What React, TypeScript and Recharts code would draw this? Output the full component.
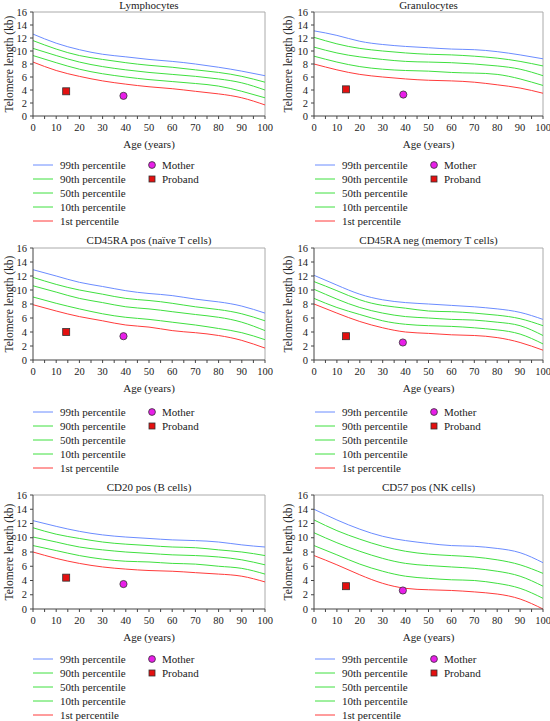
import React from "react";
import { ComposedChart, Line, Scatter, XAxis, YAxis, ReferenceLine } from "recharts";

const AGES = [0, 10, 20, 30, 40, 50, 60, 70, 80, 90, 100];
const AGE_TICKS = [0, 5, 10, 15, 20, 25, 30, 35, 40, 45, 50, 55, 60, 65, 70, 75, 80, 85, 90, 95, 100];
const TL_TICKS = [0, 2, 4, 6, 8, 10, 12, 14, 16];

// Lymphocytes
const lymP99 = [12.6, 11.2, 10.2, 9.5, 9.1, 8.7, 8.4, 8.0, 7.5, 6.9, 6.2];
const lymP90 = [11.6, 10.3, 9.3, 8.7, 8.2, 7.8, 7.5, 7.1, 6.7, 6.1, 5.2];
const lymP50 = [10.4, 9.3, 8.3, 7.6, 7.1, 6.7, 6.4, 6.1, 5.7, 5.1, 4.0];
const lymP10 = [9.3, 8.2, 7.2, 6.5, 6.0, 5.6, 5.3, 5.0, 4.6, 3.8, 2.8];
const lymP1 = [8.3, 7.0, 6.1, 5.4, 4.9, 4.5, 4.2, 3.8, 3.4, 2.8, 1.7];

// Granulocytes
const graP99 = [13.1, 12.4, 11.5, 11.0, 10.7, 10.5, 10.3, 10.2, 9.9, 9.4, 8.8];
const graP90 = [12.1, 11.1, 10.4, 10.0, 9.7, 9.5, 9.4, 9.2, 8.9, 8.4, 7.7];
const graP50 = [10.6, 9.7, 9.1, 8.7, 8.4, 8.3, 8.2, 8.0, 7.7, 7.2, 6.2];
const graP10 = [9.2, 8.3, 7.6, 7.2, 7.0, 6.9, 6.7, 6.6, 6.4, 5.7, 4.7];
const graP1 = [8.0, 7.1, 6.4, 6.0, 5.7, 5.5, 5.4, 5.2, 4.8, 4.3, 3.5];

// CD45RA pos
const naiP99 = [12.9, 12.0, 11.1, 10.5, 9.9, 9.5, 9.2, 8.7, 8.3, 7.7, 6.7];
const naiP90 = [11.8, 10.8, 10.0, 9.4, 8.8, 8.5, 8.1, 7.6, 7.2, 6.6, 5.6];
const naiP50 = [10.6, 9.7, 8.8, 8.2, 7.6, 7.3, 6.9, 6.5, 6.1, 5.4, 4.2];
const naiP10 = [9.0, 8.1, 7.3, 6.6, 6.1, 5.8, 5.4, 5.0, 4.5, 3.9, 2.9];
const naiP1 = [7.9, 7.0, 6.2, 5.6, 5.0, 4.7, 4.2, 3.9, 3.5, 2.8, 1.7];

// CD45RA neg
const memP99 = [12.1, 10.7, 9.4, 8.6, 8.2, 8.0, 7.8, 7.6, 7.3, 6.8, 5.8];
const memP90 = [11.2, 9.9, 8.6, 7.8, 7.4, 7.0, 6.9, 6.7, 6.4, 5.9, 4.9];
const memP50 = [10.1, 8.7, 7.5, 6.7, 6.2, 6.0, 5.8, 5.7, 5.4, 4.9, 3.5];
const memP10 = [8.8, 7.5, 6.5, 5.6, 5.1, 4.9, 4.8, 4.6, 4.3, 3.7, 2.3];
const memP1 = [8.0, 6.7, 5.5, 4.6, 4.0, 3.8, 3.6, 3.5, 3.2, 2.5, 1.4];

// CD20 pos
const bP99 = [12.4, 11.6, 10.9, 10.4, 10.1, 9.9, 9.7, 9.6, 9.4, 9.0, 8.7];
const bP90 = [11.4, 10.5, 9.9, 9.4, 9.1, 8.9, 8.7, 8.6, 8.3, 8.0, 7.5];
const bP50 = [10.1, 9.4, 8.7, 8.3, 8.0, 7.8, 7.6, 7.5, 7.3, 6.9, 6.2];
const bP10 = [8.9, 8.2, 7.5, 7.0, 6.7, 6.6, 6.4, 6.3, 6.0, 5.7, 4.9];
const bP1 = [8.0, 7.1, 6.4, 5.9, 5.6, 5.4, 5.3, 5.1, 4.9, 4.6, 3.8];

// CD57 pos
const nkP99 = [14.0, 12.5, 11.2, 10.2, 9.6, 9.2, 8.9, 8.8, 8.5, 7.9, 6.5];
const nkP90 = [12.5, 11.0, 9.8, 8.8, 8.1, 7.7, 7.5, 7.3, 6.9, 6.2, 5.0];
const nkP50 = [10.7, 9.3, 8.1, 7.1, 6.4, 6.1, 5.9, 5.7, 5.3, 4.6, 3.2];
const nkP10 = [8.9, 7.6, 6.3, 5.3, 4.6, 4.3, 4.1, 4.0, 3.6, 2.9, 1.5];
const nkP1 = [7.5, 6.2, 4.8, 3.6, 2.9, 2.7, 2.6, 2.4, 2.1, 1.4, 0.0];

// [age, kb]
const mothers = [[39, 3.1], [39, 3.3], [39, 3.4], [38.8, 2.5], [39, 3.5], [38.8, 2.6]];
const probands = [[14.3, 3.8], [14, 4.1], [14.3, 4.0], [14, 3.4], [14.3, 4.4], [14, 3.2]];

const SERIF = '"Liberation Serif", "Times New Roman", Times, serif';
const BLUE = "#6b8cff";
const GREEN = "#3fe03f";
const RED = "#ff3b3b";
const AXIS = "#444";

const legendRows = [
  { name: "99th percentile", color: BLUE },
  { name: "90th percentile", color: GREEN },
  { name: "50th percentile", color: GREEN },
  { name: "10th percentile", color: GREEN },
  { name: "1st percentile", color: RED },
];

const XTick = (props: any) => {
  const { x, y, payload } = props;
  if (payload.value % 10 !== 0) return <g />;
  return (
    <text x={x} y={y} dy="0.71em" textAnchor="middle" fontSize={10.5} style={{ fontFamily: SERIF }} fill="#222">
      {payload.value}
    </text>
  );
};

const YTick = (props: any) => {
  const { x, y, payload } = props;
  return (
    <text x={x} y={y} dy="0.35em" textAnchor="end" fontSize={10.5} style={{ fontFamily: SERIF }} fill="#222">
      {payload.value}
    </text>
  );
};

const MotherDot = (props: any) => (
  <circle cx={props.cx} cy={props.cy} r={3.6} fill="#e81ee8" stroke="#333" strokeWidth={0.8} />
);
const ProbandBox = (props: any) => (
  <rect x={props.cx - 3.5} y={props.cy - 3.5} width={7} height={7} fill="#e41010" stroke="#333" strokeWidth={0.8} />
);

function Panel({ title, curves, idx, col, top, plotTop, plotH, titleY, legendY }: any) {
  const plotLeft = col ? 39 : 33;
  const rightM = col ? 7 : 10;
  const plotW = 275 - plotLeft - rightM;
  const height = plotTop + plotH + 34;
  const rows = AGES.map((age, i) => ({
    age,
    p99: curves[0][i],
    p90: curves[1][i],
    p50: curves[2][i],
    p10: curves[3][i],
    p1: curves[4][i],
  }));
  const left = col * 275;
  const yLabelX = col ? 13 : 9;
  const plotBottom = plotTop + plotH;
  return (
    <>
      <div
        style={{
          position: "absolute", left: left + plotLeft, top: titleY - 7, width: plotW,
          textAlign: "center", fontSize: 11, lineHeight: "14px", fontFamily: SERIF, color: "#222",
        }}
      >
        {title}
      </div>
      <div style={{ position: "absolute", left, top }}>
        <ComposedChart width={275} height={height} data={rows} margin={{ top: plotTop, right: rightM, left: 0, bottom: 0 }}>
          <XAxis
            dataKey="age" type="number" domain={[0, 100]} ticks={AGE_TICKS} interval={0}
            tick={<XTick />} tickSize={3} tickMargin={5} height={34}
            axisLine={{ stroke: AXIS }} tickLine={{ stroke: AXIS }}
            label={() => (
              <text x={plotLeft + plotW / 2} y={plotBottom + 28} dy="0.35em" textAnchor="middle" fontSize={11} style={{ fontFamily: SERIF }} fill="#222">
                Age (years)
              </text>
            )}
          />
          <YAxis
            type="number" domain={[0, 16]} ticks={TL_TICKS} interval={0} width={plotLeft}
            tickSize={3} tickMargin={3} tick={<YTick />}
            axisLine={{ stroke: AXIS }} tickLine={{ stroke: AXIS }}
            label={() => (
              <text
                x={yLabelX} y={plotTop + plotH / 2} textAnchor="middle" dominantBaseline="central"
                transform={`rotate(-90 ${yLabelX} ${plotTop + plotH / 2})`}
                fontSize={11.5} style={{ fontFamily: SERIF }} fill="#222"
              >
                Telomere length (kb)
              </text>
            )}
          />
          <ReferenceLine y={16} stroke="#aaa" />
          <ReferenceLine x={100} stroke="#aaa" />
          <Line type="natural" dataKey="p99" stroke={BLUE} strokeWidth={1} dot={false} isAnimationActive={false} />
          <Line type="natural" dataKey="p90" stroke={GREEN} strokeWidth={1} dot={false} isAnimationActive={false} />
          <Line type="natural" dataKey="p50" stroke={GREEN} strokeWidth={1} dot={false} isAnimationActive={false} />
          <Line type="natural" dataKey="p10" stroke={GREEN} strokeWidth={1} dot={false} isAnimationActive={false} />
          <Line type="natural" dataKey="p1" stroke={RED} strokeWidth={1} dot={false} isAnimationActive={false} />
          <Scatter data={[{ age: probands[idx][0], tl: probands[idx][1] }]} dataKey="tl" shape={<ProbandBox />} isAnimationActive={false} />
          <Scatter data={[{ age: mothers[idx][0], tl: mothers[idx][1] }]} dataKey="tl" shape={<MotherDot />} isAnimationActive={false} />
        </ComposedChart>
      </div>
      <div style={{ position: "absolute", left: left + (col ? 40 : 33), top: legendY - 7, fontFamily: SERIF, fontSize: 11, color: "#222" }}>
        {legendRows.map((r, i) => (
          <div key={r.name} style={{ position: "absolute", top: i * 14, left: 0, height: 14, width: 110, display: "flex", alignItems: "center" }}>
            <svg width={20} height={14}><line x1={0} x2={20} y1={7} y2={7} stroke={r.color} strokeWidth={1} /></svg>
            <span style={{ marginLeft: 7, whiteSpace: "nowrap", lineHeight: "14px" }}>{r.name}</span>
          </div>
        ))}
        <div style={{ position: "absolute", top: 0, left: 114, height: 14, display: "flex", alignItems: "center" }}>
          <svg width={10} height={14}><circle cx={5} cy={7} r={3.4} fill="#e81ee8" stroke="#333" strokeWidth={0.8} /></svg>
          <span style={{ marginLeft: 5, whiteSpace: "nowrap", lineHeight: "14px" }}>Mother</span>
        </div>
        <div style={{ position: "absolute", top: 14, left: 114, height: 14, display: "flex", alignItems: "center" }}>
          <svg width={10} height={14}><rect x={2} y={4} width={6} height={6} fill="#e41010" stroke="#333" strokeWidth={0.8} /></svg>
          <span style={{ marginLeft: 5, whiteSpace: "nowrap", lineHeight: "14px" }}>Proband</span>
        </div>
      </div>
    </>
  );
}

const panels = [
  { title: "Lymphocytes", curves: [lymP99, lymP90, lymP50, lymP10, lymP1] },
  { title: "Granulocytes", curves: [graP99, graP90, graP50, graP10, graP1] },
  { title: "CD45RA pos (naïve T cells)", curves: [naiP99, naiP90, naiP50, naiP10, naiP1] },
  { title: "CD45RA neg (memory T cells)", curves: [memP99, memP90, memP50, memP10, memP1] },
  { title: "CD20 pos (B cells)", curves: [bP99, bP90, bP50, bP10, bP1] },
  { title: "CD57 pos (NK cells)", curves: [nkP99, nkP90, nkP50, nkP10, nkP1] },
];

const rowLayout = [
  { top: 0, plotTop: 12, plotH: 104, titleY: 5, legendY: 165 },
  { top: 235, plotTop: 13, plotH: 112, titleY: 240, legendY: 412 },
  { top: 470, plotTop: 25, plotH: 114, titleY: 487, legendY: 659 },
];

export default function App() {
  return (
    <div style={{ position: "absolute", left: 0, top: 0, width: 550, height: 721, background: "#fff", overflow: "hidden" }}>
      {panels.map((p, i) => {
        const row = rowLayout[Math.floor(i / 2)];
        return <Panel key={p.title} {...p} idx={i} col={i % 2} {...row} />;
      })}
    </div>
  );
}
